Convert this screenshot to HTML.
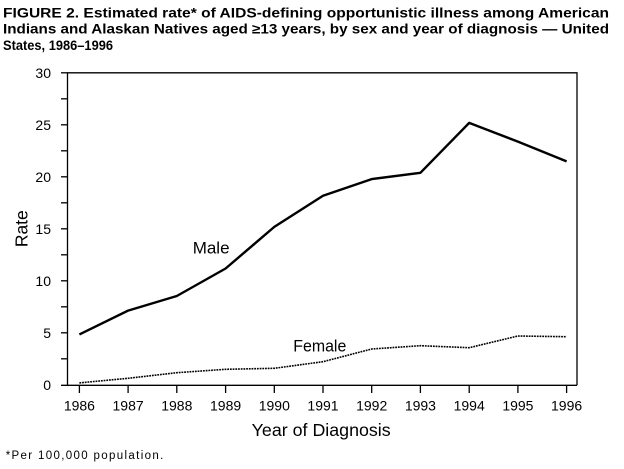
<!DOCTYPE html>
<html><head><meta charset="utf-8"><style>
html,body{margin:0;padding:0;background:#fff;}
svg{display:block;}
text{font-family:"Liberation Sans",Arial,sans-serif;fill:#000;}
</style></head><body>
<svg width="624" height="469" viewBox="0 0 624 469" xmlns="http://www.w3.org/2000/svg">
<rect width="624" height="469" fill="#fff"/>
<!-- title -->
<text x="3" y="17.3" font-size="13.5" font-weight="bold" textLength="606" lengthAdjust="spacingAndGlyphs">FIGURE 2. Estimated rate* of AIDS-defining opportunistic illness among American</text>
<text x="3" y="33.5" font-size="13.5" font-weight="bold" textLength="606" lengthAdjust="spacingAndGlyphs">Indians and Alaskan Natives aged ≥13 years, by sex and year of diagnosis — United</text>
<text x="3" y="50" font-size="13.5" font-weight="bold" textLength="110" lengthAdjust="spacingAndGlyphs">States, 1986–1996</text>

<!-- box -->
<g stroke="#000" stroke-width="1.3" fill="none">
<polyline points="67.5,385.3 67.5,72.8 577,72.8 577,385.3"/>
<line x1="61" y1="385.3" x2="577" y2="385.3"/>
<!-- y ticks -->
<line x1="61" y1="72.8" x2="67.5" y2="72.8"/>
<line x1="61" y1="98.8" x2="67.5" y2="98.8"/>
<line x1="61" y1="124.8" x2="67.5" y2="124.8"/>
<line x1="61" y1="150.8" x2="67.5" y2="150.8"/>
<line x1="61" y1="176.8" x2="67.5" y2="176.8"/>
<line x1="61" y1="202.8" x2="67.5" y2="202.8"/>
<line x1="61" y1="228.8" x2="67.5" y2="228.8"/>
<line x1="61" y1="254.8" x2="67.5" y2="254.8"/>
<line x1="61" y1="280.8" x2="67.5" y2="280.8"/>
<line x1="61" y1="306.8" x2="67.5" y2="306.8"/>
<line x1="61" y1="332.8" x2="67.5" y2="332.8"/>
<line x1="61" y1="358.8" x2="67.5" y2="358.8"/>
<!-- x ticks -->
<line x1="79.4" y1="385" x2="79.4" y2="393"/>
<line x1="128.1" y1="385" x2="128.1" y2="393"/>
<line x1="176.8" y1="385" x2="176.8" y2="393"/>
<line x1="225.6" y1="385" x2="225.6" y2="393"/>
<line x1="274.3" y1="385" x2="274.3" y2="393"/>
<line x1="323" y1="385" x2="323" y2="393"/>
<line x1="371.7" y1="385" x2="371.7" y2="393"/>
<line x1="420.4" y1="385" x2="420.4" y2="393"/>
<line x1="469.2" y1="385" x2="469.2" y2="393"/>
<line x1="517.9" y1="385" x2="517.9" y2="393"/>
<line x1="566.6" y1="385" x2="566.6" y2="393"/>
</g>

<!-- y labels -->
<g font-size="14" text-anchor="end">
<text x="51" y="78">30</text>
<text x="51" y="130">25</text>
<text x="51" y="182">20</text>
<text x="51" y="234">15</text>
<text x="51" y="286">10</text>
<text x="51" y="338">5</text>
<text x="51" y="390">0</text>
</g>
<text transform="translate(27.5,228.7) rotate(-90)" font-size="17.5" text-anchor="middle">Rate</text>

<!-- x labels -->
<g font-size="14" text-anchor="middle">
<text x="79.4" y="410.5">1986</text>
<text x="128.1" y="410.5">1987</text>
<text x="176.8" y="410.5">1988</text>
<text x="225.6" y="410.5">1989</text>
<text x="274.3" y="410.5">1990</text>
<text x="323" y="410.5">1991</text>
<text x="371.7" y="410.5">1992</text>
<text x="420.4" y="410.5">1993</text>
<text x="469.2" y="410.5">1994</text>
<text x="517.9" y="410.5">1995</text>
<text x="566.6" y="410.5">1996</text>
</g>
<text x="251.7" y="436" font-size="17.5" textLength="139" lengthAdjust="spacingAndGlyphs">Year of Diagnosis</text>

<!-- series -->
<polyline fill="none" stroke="#000" stroke-width="2.4" stroke-linejoin="round"
 points="79.4,334.4 128.1,310.6 176.8,296 225.6,268.5 274.3,226.9 323,195.7 371.7,179.1 420.4,172.8 469.2,122.9 517.9,141.6 566.6,161.4"/>
<polyline fill="none" stroke="#000" stroke-width="1.6" stroke-dasharray="1.8 0.9"
 points="79.4,382.9 128.1,378.3 176.8,372.7 225.6,369.3 274.3,368.3 323,361.7 371.7,349 420.4,345.7 469.2,347.7 517.9,336 566.6,336.7"/>

<text x="192.7" y="253.3" font-size="17">Male</text>
<text x="293.3" y="351.7" font-size="16.5" textLength="53" lengthAdjust="spacingAndGlyphs">Female</text>

<!-- footnote -->
<text x="5.7" y="459" font-size="11.5" textLength="157.6" lengthAdjust="spacing">*Per 100,000 population.</text>
</svg>
</body></html>
